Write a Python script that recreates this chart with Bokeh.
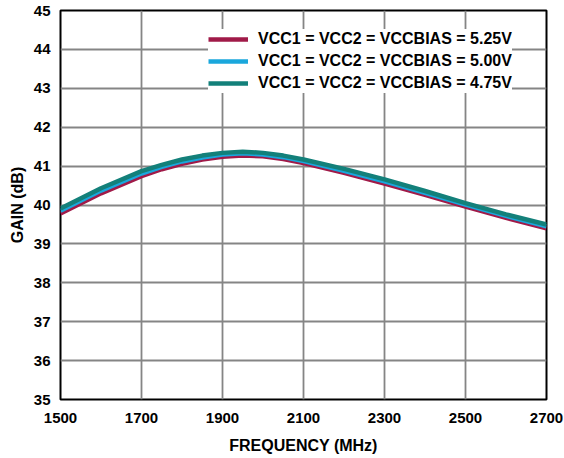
from bokeh.plotting import figure
from bokeh.models import Range1d, FixedTicker, Legend, LegendItem
from bokeh.embed import file_html
from bokeh.resources import INLINE

freq = [1500, 1600, 1700, 1750, 1800, 1850, 1900, 1950, 2000, 2050, 2100, 2200, 2300, 2400, 2500, 2600, 2700]
gain_525 = [39.78, 40.30, 40.74, 40.92, 41.06, 41.17, 41.24, 41.27, 41.25, 41.18, 41.08, 40.83, 40.55, 40.26, 39.96, 39.67, 39.40]
gain_500 = [39.85, 40.37, 40.81, 40.98, 41.12, 41.22, 41.30, 41.33, 41.30, 41.23, 41.13, 40.88, 40.61, 40.31, 40.01, 39.72, 39.45]
gain_475 = [39.91, 40.43, 40.87, 41.03, 41.17, 41.27, 41.34, 41.37, 41.34, 41.27, 41.17, 40.93, 40.66, 40.36, 40.05, 39.76, 39.50]

labels = ["VCC1 = VCC2 = VCCBIAS = 5.25V",
          "VCC1 = VCC2 = VCCBIAS = 5.00V",
          "VCC1 = VCC2 = VCCBIAS = 4.75V"]
colors = ["#A01A48", "#1AA7DC", "#13807A"]

x_ticks = [1500, 1700, 1900, 2100, 2300, 2500, 2700]
y_ticks = [35, 36, 37, 38, 39, 40, 41, 42, 43, 44, 45]

p = figure(width=564, height=458, output_backend="svg", toolbar_location=None,
           x_range=Range1d(1500, 2700), y_range=Range1d(35, 45),
           min_border_left=60, min_border_right=18, min_border_top=10, min_border_bottom=59)
p.background_fill_color = "white"
p.border_fill_color = "white"
p.outline_line_color = "black"
p.outline_line_width = 2

font = "Liberation Sans"
for ax, ticks in ((p.xaxis, x_ticks), (p.yaxis, y_ticks)):
    ax.ticker = FixedTicker(ticks=ticks)
    ax.axis_line_color = None
    ax.major_tick_line_color = None
    ax.minor_tick_line_color = None
    ax.major_label_text_font = font
    ax.major_label_text_font_style = "bold"
    ax.major_label_text_font_size = "15px"
    ax.major_label_text_color = "black"
    ax.axis_label_text_font = font
    ax.axis_label_text_font_style = "bold"
    ax.axis_label_text_font_size = "16px"
    ax.axis_label_text_color = "black"
    ax.major_tick_out = 0
    ax.major_tick_in = 0

p.xaxis.axis_label = "FREQUENCY (MHz)"
p.yaxis.axis_label = "GAIN (dB)"
p.xaxis.major_label_standoff = 13
p.xaxis.axis_label_standoff = 11
p.yaxis.major_label_standoff = 10
p.yaxis.axis_label_standoff = 5

p.xgrid.ticker = FixedTicker(ticks=x_ticks)
p.ygrid.ticker = FixedTicker(ticks=y_ticks)
for g in (p.xgrid, p.ygrid):
    g.grid_line_color = "#858585"
    g.grid_line_width = 1.8

r1 = p.line(freq, gain_525, line_color=colors[0], line_width=4.5)
r2 = p.line(freq, gain_500, line_color=colors[1], line_width=4.5)
r3 = p.line(freq, gain_475, line_color=colors[2], line_width=4.5)

legend = Legend(items=[LegendItem(label=labels[0], renderers=[r1]),
                       LegendItem(label=labels[1], renderers=[r2]),
                       LegendItem(label=labels[2], renderers=[r3])],
                location=(148, 306))
legend.label_text_font = font
legend.label_text_font_style = "bold"
legend.label_text_font_size = "16px"
legend.label_text_color = "black"
legend.glyph_width = 40
legend.glyph_height = 20
legend.label_height = 20
legend.label_standoff = 10
legend.spacing = 2
legend.padding = 8
legend.border_line_color = None
legend.background_fill_color = "white"
legend.background_fill_alpha = 1.0
p.add_layout(legend, "center")

open("out.html", "w").write(file_html(p, INLINE))
